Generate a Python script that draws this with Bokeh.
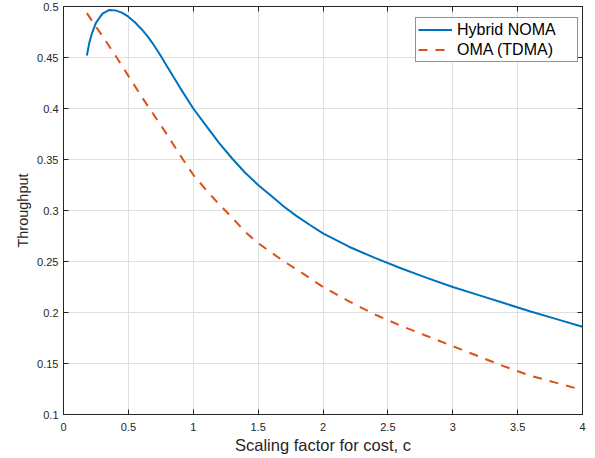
from bokeh.plotting import figure
from bokeh.models import Range1d, FixedTicker, LinearAxis, Legend, LegendItem
from bokeh.embed import file_html
from bokeh.resources import INLINE

# ---- data ----
x_hybrid = [0.18, 0.2, 0.22, 0.25, 0.3, 0.35, 0.4, 0.45, 0.5, 0.55, 0.6, 0.65,
            0.7, 0.75, 0.8, 0.9, 1.0, 1.1, 1.2, 1.3, 1.4, 1.5, 1.6, 1.7, 1.8,
            1.9, 2.0, 2.2, 2.4, 2.6, 2.8, 3.0, 3.2, 3.4, 3.6, 3.8, 4.0]
y_hybrid = [0.452, 0.465, 0.474, 0.484, 0.493, 0.4965, 0.4962, 0.4940, 0.4900,
            0.4845, 0.4780, 0.4705, 0.4615, 0.4515, 0.441, 0.420, 0.400, 0.383,
            0.366, 0.351, 0.337, 0.325, 0.3145, 0.3037, 0.2942, 0.2858, 0.2776,
            0.2645, 0.2535, 0.2434, 0.234, 0.225, 0.217, 0.209, 0.201, 0.1935,
            0.186]

x_oma = [0.18, 0.3, 0.4, 0.5, 0.6, 0.7, 0.8, 0.9, 1.0, 1.1, 1.2, 1.3, 1.4, 1.5,
         1.6, 1.7, 1.8, 1.9, 2.0, 2.2, 2.4, 2.6, 2.8, 3.0, 3.2, 3.4, 3.6, 3.8, 4.0]
y_oma = [0.4935, 0.471, 0.452, 0.432, 0.412, 0.393, 0.374, 0.354, 0.335, 0.320,
         0.306, 0.293, 0.279, 0.268, 0.259, 0.250, 0.242, 0.2335, 0.225, 0.211,
         0.198, 0.187, 0.177, 0.167, 0.157, 0.147, 0.138, 0.131, 0.124]

series_names = ["Hybrid NOMA", "OMA (TDMA)"]

x_ticks = [0, 0.5, 1, 1.5, 2, 2.5, 3, 3.5, 4]
x_tick_labels = ["0", "0.5", "1", "1.5", "2", "2.5", "3", "3.5", "4"]
y_ticks = [0.1, 0.15, 0.2, 0.25, 0.3, 0.35, 0.4, 0.45, 0.5]
y_tick_labels = ["0.1", "0.15", "0.2", "0.25", "0.3", "0.35", "0.4", "0.45", "0.5"]

x_label = "Scaling factor for cost, c"
y_label = "Throughput"

FONT = "Liberation Sans"
AX = "#262626"

p = figure(width=594, height=458, output_backend="svg", toolbar_location=None,
           x_range=Range1d(0, 4), y_range=Range1d(0.1, 0.5),
           min_border_left=63, min_border_right=12, min_border_top=6,
           min_border_bottom=44,
           background_fill_color="white", border_fill_color="white",
           outline_line_color=AX, outline_line_width=1)

for ax in (p.xaxis[0], p.yaxis[0]):
    ax.major_tick_in = 5
    ax.major_tick_out = 0
    ax.minor_tick_line_color = None
    ax.axis_line_color = AX
    ax.major_tick_line_color = AX
    ax.major_label_text_font = FONT
    ax.major_label_text_font_size = "11px"
    ax.major_label_text_color = AX
    ax.axis_label_text_font = FONT
    ax.axis_label_text_font_style = "normal"
    ax.axis_label_text_color = AX

p.xaxis.ticker = FixedTicker(ticks=x_ticks)
p.xaxis.major_label_overrides = dict(zip(x_ticks, x_tick_labels))
p.xaxis.axis_label = x_label
p.xaxis.axis_label_text_font_size = "16.5px"
p.xaxis.major_label_standoff = 8
p.xaxis.axis_label_standoff = 2

p.yaxis.ticker = FixedTicker(ticks=y_ticks)
p.yaxis.major_label_overrides = dict(zip(y_ticks, y_tick_labels))
p.yaxis.axis_label = y_label
p.yaxis.axis_label_text_font_size = "14.5px"
p.yaxis.major_label_standoff = 5
p.yaxis.axis_label_standoff = 3

for loc, tk in (("right", y_ticks), ("above", x_ticks)):
    a = LinearAxis(ticker=FixedTicker(ticks=tk), major_tick_in=5, major_tick_out=0,
                   minor_tick_line_color=None, axis_line_color=AX,
                   major_tick_line_color=AX, major_label_text_font_size="0px",
                   major_label_text_color=None, major_label_standoff=0)
    p.add_layout(a, loc)

p.xgrid.ticker = FixedTicker(ticks=x_ticks)
p.ygrid.ticker = FixedTicker(ticks=y_ticks)
for g in (p.xgrid[0], p.ygrid[0]):
    g.grid_line_color = "#DFDFDF"
    g.grid_line_width = 1

r1 = p.line(x_hybrid, y_hybrid, line_color="#0072BD", line_width=2)
r2 = p.line(x_oma, y_oma, line_color="#D95319", line_width=2, line_dash="9 8")

legend = Legend(items=[LegendItem(label=series_names[0], renderers=[r1]),
                       LegendItem(label=series_names[1], renderers=[r2])],
                location=(352, 352), padding=2, spacing=1,
                glyph_width=34, glyph_height=19, label_height=19,
                label_width=118, label_standoff=5, margin=0,
                label_text_font=FONT, label_text_font_size="16px",
                label_text_color="#000000",
                border_line_color=AX, border_line_width=1,
                background_fill_color="white", background_fill_alpha=1)
p.add_layout(legend, "center")

open("out.html", "w").write(file_html(p, INLINE))
